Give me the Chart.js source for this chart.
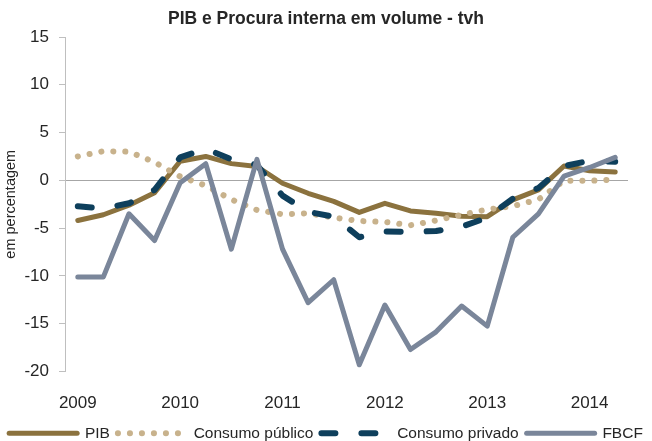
<!DOCTYPE html>
<html lang="pt">
<head>
<meta charset="utf-8">
<title>PIB e Procura interna em volume - tvh</title>
<script src="https://cdn.jsdelivr.net/npm/chart.js@4/dist/chart.umd.min.js"></script>
<style>
  html, body { margin: 0; padding: 0; background: #fff; }
  #wrap { position: relative; width: 652px; height: 441px; }
</style>
</head>
<body>
<div id="wrap"><canvas id="chart"></canvas></div>
<script>
  // Quarterly series, 2009T1 .. 2014T2 (taxa de variação homóloga, %)
  var QUARTERS = [
    "2009T1", "2009T2", "2009T3", "2009T4",
    "2010T1", "2010T2", "2010T3", "2010T4",
    "2011T1", "2011T2", "2011T3", "2011T4",
    "2012T1", "2012T2", "2012T3", "2012T4",
    "2013T1", "2013T2", "2013T3", "2013T4",
    "2014T1", "2014T2"
  ];
  var PIB = [-4.2, -3.6, -2.6, -1.3, 2.0, 2.5, 1.75, 1.45, -0.3, -1.35, -2.2, -3.35,
             -2.4, -3.2, -3.45, -3.75, -3.8, -2.05, -1.0, 1.5, 1.0, 0.87];
  var CONSUMO_PUBLICO = [2.5, 3.05, 3.0, 1.9, 0.4, -0.55, -2.0, -3.1, -3.55, -3.45, -3.9, -4.25,
                         -4.35, -4.7, -4.2, -3.6, -3.05, -2.7, -2.0, -0.05, -0.05, 0.1];
  var CONSUMO_PRIVADO = [-2.7, -2.95, -2.4, -1.0, 2.4, 3.3, 2.2, 1.6, -1.6, -3.3, -3.8, -5.95,
                         -5.35, -5.4, -5.3, -4.85, -3.9, -1.9, -0.8, 1.5, 2.05, 1.95];
  var FBCF = [-10.1, -10.1, -3.5, -6.3, -0.25, 1.75, -7.2, 2.2, -7.2, -12.8, -10.4, -19.3,
              -13.05, -17.7, -15.85, -13.15, -15.25, -5.95, -3.5, 0.45, 1.35, 2.4];
  var Y_MIN = -20, Y_MAX = 15, Y_STEP = 5;

  var TEXT = "#262626", AXIS = "#bfbfbf", ZERO = "#a6a6a6";
  var FONT = "'Liberation Sans', Arial, sans-serif";

  function line(label, data, color, width, dash, order) {
    return {
      label: label, data: data, borderColor: color, backgroundColor: color,
      borderWidth: width, borderDash: dash, borderCapStyle: "round", borderJoinStyle: "round",
      pointRadius: 0, pointHoverRadius: 0, tension: 0, fill: false, order: order
    };
  }

  // Legend entries drawn as line samples carrying each series' dash pattern.
  function legendItems(chart) {
    return chart.data.datasets.map(function (ds, i) {
      return {
        text: ds.label, datasetIndex: i, hidden: false, fontColor: TEXT,
        fillStyle: ds.borderColor, strokeStyle: ds.borderColor, lineWidth: ds.borderWidth,
        lineDash: ds.borderDash, lineCap: ds.borderCapStyle, pointStyle: "line"
      };
    });
  }

  new Chart(document.getElementById("chart"), {
    type: "line",
    data: {
      labels: QUARTERS,
      datasets: [
        line("PIB", PIB, "#8b723e", 5, [], 3),
        line("Consumo público", CONSUMO_PUBLICO, "#c8b28c", 6, [0.1, 11.9], 2),
        line("Consumo privado", CONSUMO_PRIVADO, "#0e3f5c", 6, [14, 26], 1),
        line("FBCF", FBCF, "#7a869a", 5, [], 0)
      ]
    },
    options: {
      responsive: true, maintainAspectRatio: false, animation: false,
      // legend box is taller than its single row; let its empty bottom run off the canvas
      layout: { padding: { top: 0, left: 0, right: 0, bottom: -10 } },
      plugins: {
        title: {
          display: true, text: "PIB e Procura interna em volume - tvh", color: TEXT,
          font: { family: FONT, size: 17.5, weight: "bold" }, padding: { top: 9, bottom: 7 }
        },
        legend: {
          position: "bottom",
          labels: {
            usePointStyle: true, pointStyleWidth: 68, boxHeight: 6,
            padding: 8, color: TEXT, font: { family: FONT, size: 15.5 },
            generateLabels: legendItems
          }
        },
        tooltip: { enabled: false }
      },
      scales: {
        x: {
          offset: true,
          grid: { display: false, drawTicks: false },
          border: { display: false },
          ticks: {
            autoSkip: false, maxRotation: 0, padding: 22, color: TEXT,
            font: { family: FONT, size: 17 },
            callback: function (v, i) {
              var q = QUARTERS[i];
              return q.slice(4) === "T1" ? q.slice(0, 4) : "";
            }
          },
          afterFit: function (s) { s.height = 46; }
        },
        y: {
          min: Y_MIN, max: Y_MAX,
          grid: {
            color: function (c) { return c.tick && c.tick.value === 0 ? ZERO : "transparent"; },
            tickColor: AXIS, tickLength: 6, lineWidth: 1
          },
          border: { display: true, color: AXIS },
          ticks: { stepSize: Y_STEP, padding: 10, color: TEXT, font: { family: FONT, size: 17 } },
          title: {
            display: true, text: "em percentagem", color: TEXT,
            font: { family: FONT, size: 14.5 }, padding: { top: 2, bottom: 0 }
          },
          afterFit: function (s) { s.width = 65; }
        },
        yRight: {
          position: "right", display: true,
          grid: { display: false, drawTicks: false }, border: { display: false },
          ticks: { display: false },
          afterFit: function (s) { s.width = 24; }
        }
      }
    }
  });
</script>
</body>
</html>
